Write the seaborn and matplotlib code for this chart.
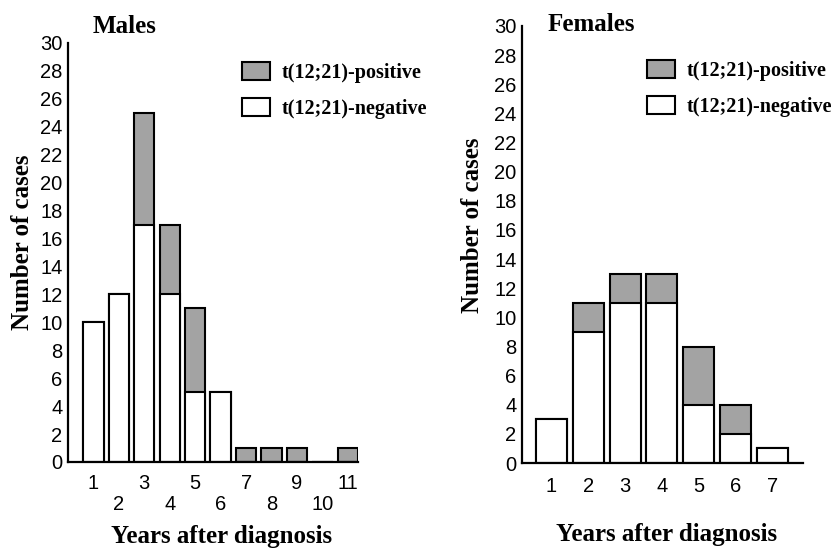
import pandas as pd
import matplotlib
matplotlib.use("Agg")
import matplotlib.pyplot as plt
import seaborn as sns
from matplotlib.patches import Patch

# data
male_years = [1, 2, 3, 4, 5, 6, 7, 8, 9, 10, 11]
male_negative = [10, 12, 17, 12, 5, 5, 0, 0, 0, 0, 0]
male_positive = [0, 0, 8, 5, 6, 0, 1, 1, 1, 0, 1]

female_years = [1, 2, 3, 4, 5, 6, 7]
female_negative = [3, 9, 11, 11, 4, 2, 1]
female_positive = [0, 2, 2, 2, 4, 2, 0]

y_ticks = list(range(0, 31, 2))
pos_label = "t(12;21)-positive"
neg_label = "t(12;21)-negative"

sns.set_style("white")
plt.rcParams["font.family"] = ["Liberation Sans", "DejaVu Sans"]
for k in ["text.color", "axes.labelcolor", "xtick.color", "ytick.color"]:
    plt.rcParams[k] = "black"
serif = ["Liberation Serif", "DejaVu Serif"]
GRAY = "#a3a3a3"


def make_df(years, neg, pos):
    df = pd.DataFrame({"Year": years, "Negative": neg, "Positive": pos})
    df["Total"] = df["Negative"] + df["Positive"]
    return df


def draw(ax, df, width, title, title_xy, leg_anchor, ylab_xy, xlab_xy):
    # total bars in gray, negative part painted white on top
    sns.barplot(data=df, x="Year", y="Total", native_scale=True, color=GRAY,
                edgecolor="black", linewidth=1.5, width=width, saturation=1,
                errorbar=None, ax=ax)
    sns.barplot(data=df, x="Year", y="Negative", native_scale=True, color="white",
                edgecolor="black", linewidth=1.5, width=width, saturation=1,
                errorbar=None, ax=ax)
    ax.set_ylim(0, 30)
    ax.set_yticks(y_ticks)
    ax.set_yticklabels([str(t) for t in y_ticks], fontsize=14.5)
    sns.despine(ax=ax)
    for s in ["left", "bottom"]:
        ax.spines[s].set_color("black")
        ax.spines[s].set_linewidth(1.6)
    ax.tick_params(axis="both", length=0)
    ax.tick_params(axis="y", pad=4)
    ax.set_ylabel("Number of cases", fontsize=18, fontweight="bold", family=serif)
    ax.yaxis.set_label_coords(*ylab_xy)
    ax.set_xlabel("Years after diagnosis", fontsize=18, fontweight="bold", family=serif)
    ax.xaxis.set_label_coords(*xlab_xy)
    ax.text(title_xy[0], title_xy[1], title, transform=ax.transAxes, fontsize=18,
            fontweight="bold", family=serif, va="center", ha="left")
    handles = [Patch(facecolor=GRAY, edgecolor="black", linewidth=1.5, label=pos_label),
               Patch(facecolor="white", edgecolor="black", linewidth=1.5, label=neg_label)]
    ax.legend(handles=handles, loc="upper left", bbox_to_anchor=leg_anchor,
              frameon=False, borderpad=0, borderaxespad=0, handlelength=1.4,
              handleheight=1.0, handletextpad=0.55, labelspacing=0.75,
              prop={"family": serif, "weight": "bold", "size": 14.5})


fig = plt.figure(figsize=(8.32, 5.48), dpi=100)
ax1 = fig.add_axes([0.0817, 0.157, 0.3486, 0.7646])
ax2 = fig.add_axes([0.6274, 0.155, 0.3377, 0.7976])

males = make_df(male_years, male_negative, male_positive)
females = make_df(female_years, female_negative, female_positive)

draw(ax1, males, 0.8, "Males", (0.086, 1.04), (0.6, 0.955), (-0.117, 0.525), (0.531, -0.15))
ax1.set_xlim(0, 11.4)
ax1.set_xticks(male_years)
ax1.set_xticklabels([str(y) if y % 2 else "\n" + str(y) for y in male_years], fontsize=14.5,
                    linespacing=1.1)
ax1.tick_params(axis="x", pad=9)

draw(ax2, females, 0.84, "Females", (0.0925, 1.003), (0.445, 0.922), (-0.135, 0.545), (0.516, -0.138))
ax2.set_xlim(0.2, 7.83)
ax2.set_xticks(female_years)
ax2.set_xticklabels([str(y) for y in female_years], fontsize=14.5)
ax2.tick_params(axis="x", pad=10)

fig.savefig("out.png", dpi=100)
